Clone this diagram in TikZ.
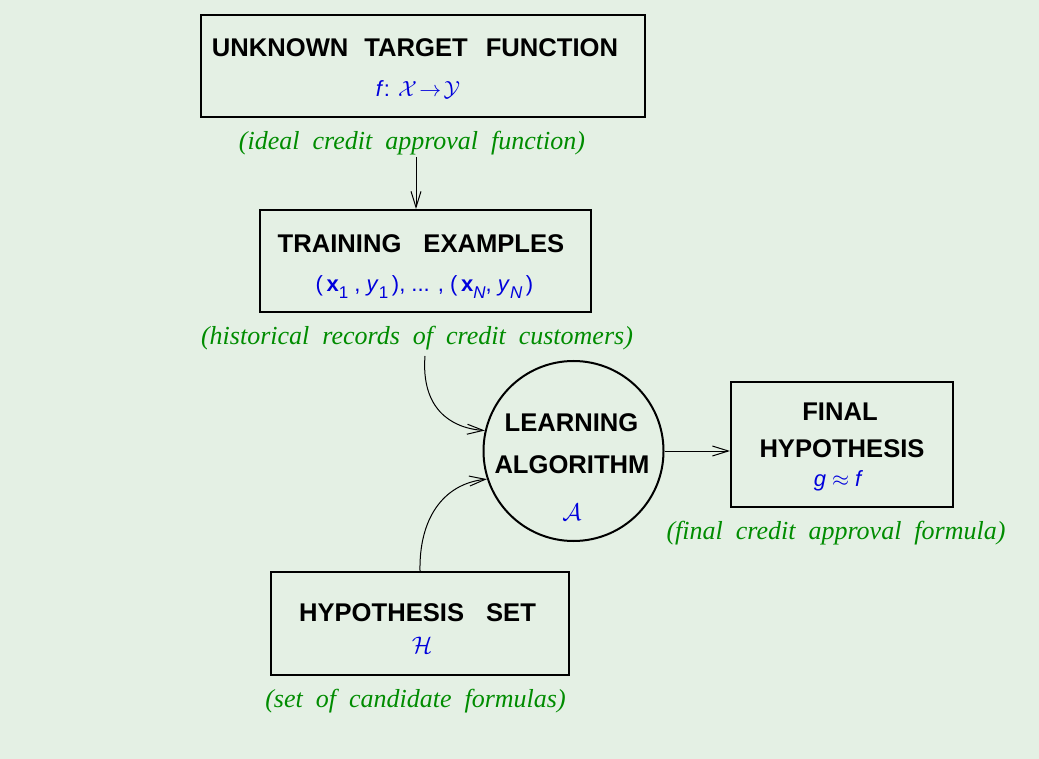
\documentclass[tikz,border=0pt]{standalone}
\usepackage{fontspec}
\setsansfont{Liberation Sans}
\newfontfamily\lserif{Liberation Serif}
\usetikzlibrary{arrows.meta}
\definecolor{bg}{RGB}{228,240,228}
\definecolor{lgreen}{RGB}{0,140,0}
\definecolor{lblue}{RGB}{0,0,220}
\newcommand\labsp{\spaceskip=6.5pt\relax}
\newcommand\sbs[1]{\raisebox{-3.2pt}{\fontsize{8.5}{9}\selectfont #1}}
\begin{document}
\begin{tikzpicture}[x=0.5pt,y=-0.5pt,
  box/.style={draw,line width=1pt,inner sep=0pt},
  ttl/.style={font=\fontsize{12.8}{14}\selectfont\sffamily\bfseries,inner sep=0pt},
  sub/.style={font=\fontsize{11}{13}\selectfont\sffamily,text=lblue,inner sep=0pt},
  lab/.style={font=\fontsize{13}{15}\selectfont\lserif\itshape,text=lgreen,inner sep=0pt},
  conn/.style={line width=0.5pt,-{Straight Barb[length=8pt,width=5pt]}}]
\fill[bg] (0,0) rectangle (1039,759);
\useasboundingbox (0,0) rectangle (1039,759);
% boxes
\node[box,minimum width=222pt,minimum height=51pt] (t1) at (423,66) {};
\node[box,minimum width=165.5pt,minimum height=51pt] (t2) at (425.5,261) {};
\node[box,circle,minimum size=90pt] (alg) at (573.5,451) {};
\node[box,minimum width=111pt,minimum height=62.5pt] (fin) at (842,444.5) {};
\node[box,minimum width=149pt,minimum height=51.5pt] (hs) at (420,623.5) {};
% titles
\node[ttl] (t1a) at (415,48) {UNKNOWN\hspace{8pt}TARGET\hspace{9pt}FUNCTION};
\node[sub] (t1b) at (418,90) {\textit{f}: $\mathcal{X}\!\to\!\mathcal{Y}$};
\node[ttl] (t2a) at (421,244) {TRAINING\hspace{11pt}EXAMPLES};
\node[sub] (t2b) at (424.5,287) {(\,\textbf{x}\sbs{1} , \textit{y}\sbs{1}\,), ... , (\,\textbf{x}\sbs{\textit{N}}, \textit{y}\sbs{\textit{N}}\,)};
\node[ttl] (la) at (571.5,423) {LEARNING};
\node[ttl] (lb) at (572,465) {ALGORITHM};
\node[sub,font=\fontsize{12}{14}\selectfont] (lc) at (572,512) {$\mathcal{A}$};
\node[ttl] (fa) at (840,412) {FINAL};
\node[ttl] (fb) at (842,449) {HYPOTHESIS};
\node[sub] (fc) at (838.5,481) {\textit{g} $\approx$ \textit{f}};
\node[ttl] (ha) at (417.5,613) {HYPOTHESIS\hspace{11pt}SET};
\node[sub,font=\fontsize{12}{14}\selectfont] (hb) at (422,645) {$\mathcal{H}$};
% labels
\node[lab] (l1) at (412,143) {\labsp(ideal credit approval function)};
\node[lab] (l2) at (417,338) {\labsp(historical records of credit customers)};
\node[lab] (l3) at (836,533) {\labsp(final credit approval formula)};
\node[lab] (l4) at (415.5,701) {\labsp(set of candidate formulas)};
% connectors
\coordinate (a1) at (416,157);
\coordinate (a2) at (425,356);
\draw[conn] (a1) -- (a1 |- t2.north);
\draw[conn] (a2) .. controls (421,408) and (450,428) .. (alg.167);
\draw[conn] (hs.north) .. controls (419,520) and (442,484) .. (alg.198);
\draw[conn] (alg.east) -- (alg.east -| fin.west);
\end{tikzpicture}
\end{document}
